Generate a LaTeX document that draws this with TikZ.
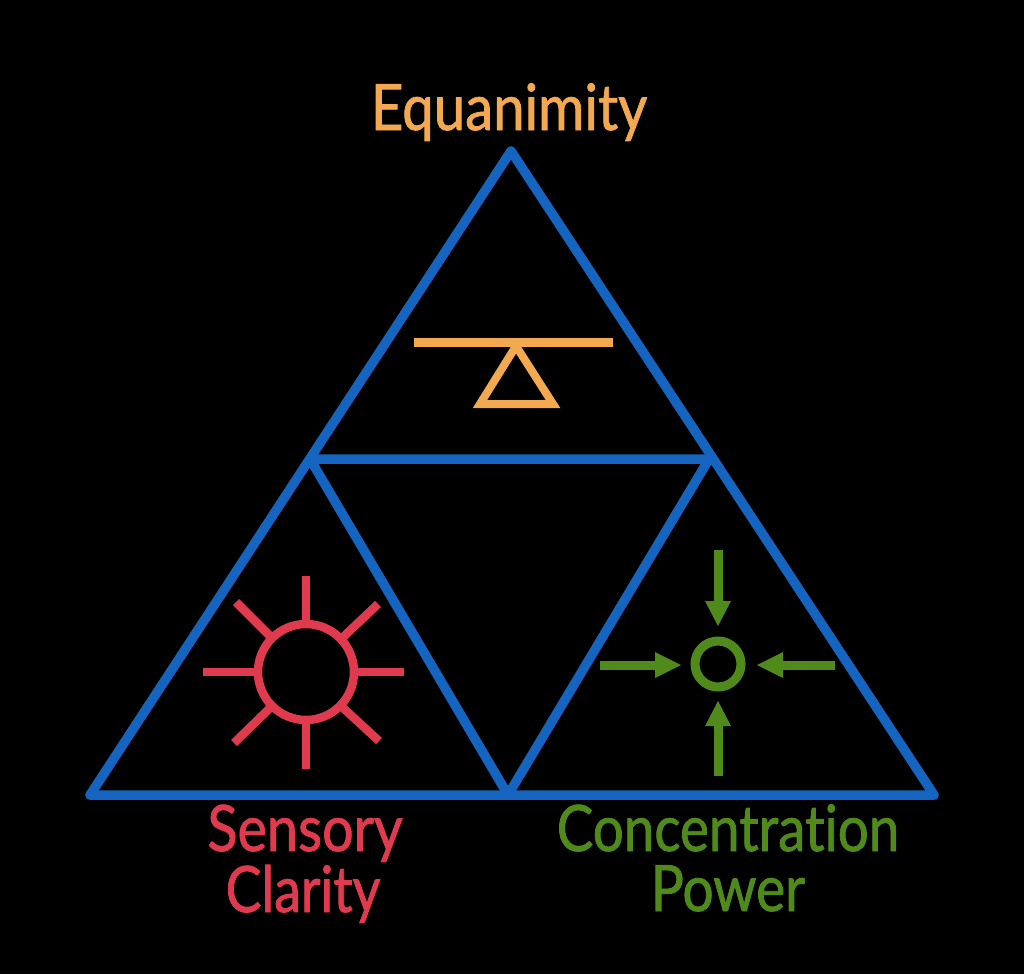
\documentclass[tikz,border=0pt]{standalone}
\usepackage{fontspec}
\setmainfont[Ligatures=NoCommon]{Lato}
\definecolor{tblue}{HTML}{1565C0}
\definecolor{torange}{HTML}{F2A950}
\definecolor{tred}{HTML}{E03A4E}
\definecolor{tgreen}{HTML}{4F8A1B}
\tikzset{
  edge/.style={draw=tblue,line width=9.5pt,line cap=round,line join=round},
  balance/.style={draw=torange,line width=8pt,line join=miter},
  ray/.style={draw=tred,line width=8.5pt},
  focusline/.style={draw=tgreen,line width=9pt},
  focushead/.style={fill=tgreen,draw=none},
  lab/.style={font=\fontsize{64pt}{70pt}\selectfont,inner sep=0pt,align=center},
}
\begin{document}
\begin{tikzpicture}[x=1pt,y=-1pt]
\useasboundingbox[fill=black] (0,0) rectangle (1024,974);
\coordinate (A) at (511,151);
\coordinate (L) at (90,795);
\coordinate (R) at (934,795);
\coordinate (ML) at (310,459);
\coordinate (MR) at (709,459);
\coordinate (MB) at (508,795);
\draw[edge] (A) -- (L) -- (R) -- cycle;
\draw[edge] (ML) -- (MR) -- (MB) -- cycle;
% balance
\coordinate (b1) at (414,342); \coordinate (b2) at (613,342);
\coordinate (t1) at (516,346); \coordinate (t2) at (480,404); \coordinate (t3) at (553,404);
\draw[balance,line width=9pt] (b1) -- (b2);
\draw[balance] (t1) -- (t2) -- (t3) -- cycle;
% sun
\coordinate (S) at (306,672);
\draw[ray] (S) circle[radius=48];
\foreach \a/\b/\c/\d in {306/576/306/624, 306/720/306/769, 203/672/258/672, 354/672/404/672,
  236/602/272/638, 378/604/340/640, 234/743/272/706, 379/741/341/706}
  \draw[ray] (\a,\b) -- (\c,\d);
% focus
\coordinate (F) at (718,664);
\draw[focusline] (F) circle[radius=23];
\draw[focusline] (718,550) -- (718,605);
\fill[focushead] (705,601) -- (731,601) -- (718,626) -- cycle;
\draw[focusline] (718,776) -- (718,722);
\fill[focushead] (705,726) -- (731,726) -- (718,701) -- cycle;
\draw[focusline] (600,665) -- (658,665);
\fill[focushead] (655,652) -- (655,678) -- (681,665) -- cycle;
\draw[focusline] (835,665) -- (780,665);
\fill[focushead] (783,652) -- (783,678) -- (757,665) -- cycle;
% labels
\node[lab,text=torange,anchor=base] (eq) at (509,130) {\addfontfeature{FakeStretch=0.88,FakeBold=1.2}Equanimity};
\node[lab,text=tred,anchor=base] (sc1) at (305,851) {\addfontfeature{FakeStretch=0.87,FakeBold=1.2}Sensory};
\node[lab,text=tred,anchor=base] (sc2) at (303,912) {\addfontfeature{FakeStretch=0.84,FakeBold=1.2}Clarity};
\node[lab,text=tgreen,anchor=base] (cp1) at (728,851) {\addfontfeature{FakeStretch=0.855,FakeBold=1.2}Concentration};
\node[lab,text=tgreen,anchor=base] (cp2) at (728,911) {\addfontfeature{FakeStretch=0.86,FakeBold=1.2}Power};
\end{tikzpicture}
\end{document}
